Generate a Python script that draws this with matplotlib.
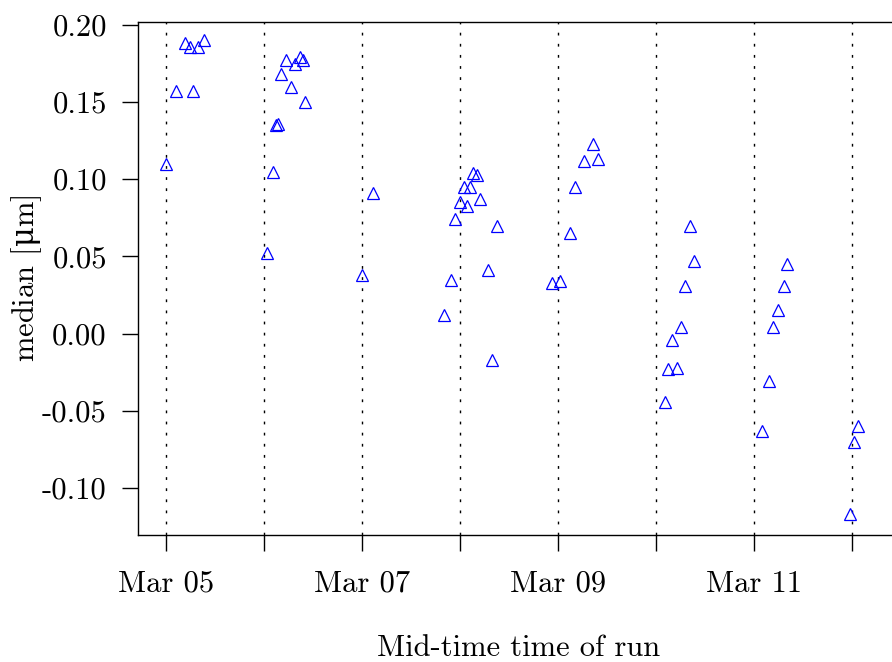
import matplotlib
matplotlib.use("Agg")
import matplotlib.pyplot as plt
from matplotlib.ticker import FixedLocator, FixedFormatter

# Mid-time of each run, as decimal day in March
run_day = [
    5.00, 5.10, 5.19, 5.24, 5.28, 5.33, 5.39,
    6.03, 6.09, 6.12, 6.14, 6.17, 6.22, 6.28, 6.32, 6.37, 6.40, 6.42,
    7.00, 7.11,
    7.84, 7.91, 7.95, 8.00, 8.04, 8.07, 8.10, 8.13, 8.17, 8.20, 8.29, 8.33, 8.38,
    8.94, 9.02, 9.12, 9.17, 9.27, 9.36, 9.41,
    10.09, 10.12, 10.16, 10.21, 10.26, 10.30, 10.35, 10.39,
    11.08, 11.15, 11.19, 11.24, 11.31, 11.34,
    11.98, 12.02, 12.06,
]
# Median value per run (um)
median_um = [
    0.110, 0.157, 0.188, 0.186, 0.157, 0.186, 0.190,
    0.052, 0.105, 0.135, 0.136, 0.168, 0.177, 0.160, 0.175, 0.179, 0.177, 0.150,
    0.038, 0.091,
    0.012, 0.035, 0.074, 0.085, 0.095, 0.083, 0.095, 0.104, 0.103, 0.087, 0.041, -0.017, 0.070,
    0.033, 0.034, 0.065, 0.095, 0.112, 0.123, 0.113,
    -0.044, -0.023, -0.004, -0.022, 0.004, 0.031, 0.070, 0.047,
    -0.063, -0.031, 0.004, 0.015, 0.031, 0.045,
    -0.117, -0.070, -0.060,
]

day_ticks = [5, 6, 7, 8, 9, 10, 11, 12]
day_labels = ["Mar 05", "", "Mar 07", "", "Mar 09", "", "Mar 11", ""]
y_ticks = [0.20, 0.15, 0.10, 0.05, 0.00, -0.05, -0.10]
y_labels = ["0.20", "0.15", "0.10", "0.05", "0.00", "-0.05", "-0.10"]

FONT = ["cmr10", "DejaVu Serif"]
plt.rcParams["font.family"] = FONT
plt.rcParams["font.size"] = 22
# upright mu for the axis label (cmr10 has no micro sign)
plt.rcParams["mathtext.fontset"] = "dejavuserif"

fig = plt.figure(figsize=(8.92, 6.62), dpi=100)
ax = fig.add_axes([138 / 892, 127 / 662, 1 - 138 / 892, 513 / 662])

# dotted vertical line at every day
for d in day_ticks:
    ax.axvline(d, color="black", lw=1.0, linestyle=(0, (2, 6)), zorder=1)

ax.plot(run_day, median_um, linestyle="none", marker="^", markersize=8.5,
        markerfacecolor="none", markeredgecolor="#0000ff", markeredgewidth=0.9,
        zorder=3)

ax.set_xlim(4.714, 12.408)
ax.set_ylim(-0.1305, 0.2019)

ax.xaxis.set_major_locator(FixedLocator(day_ticks))
ax.xaxis.set_major_formatter(FixedFormatter(day_labels))
ax.yaxis.set_major_locator(FixedLocator(y_ticks))
ax.yaxis.set_major_formatter(FixedFormatter(y_labels))
ax.tick_params(axis="both", direction="out", length=11.5, width=1.0,
               labelsize=22)
ax.tick_params(axis="x", pad=14)
ax.tick_params(axis="y", pad=11)

ax.spines["right"].set_visible(False)
for s in ["left", "bottom", "top"]:
    ax.spines[s].set_linewidth(1.0)

ax.set_xlabel("Mid-time time of run", fontsize=22)
ax.set_ylabel(r"median [$\mathrm{\mu}$m]", fontsize=22)
ax.xaxis.set_label_coords(0.505, -0.195)
ax.yaxis.set_label_coords(-0.125, 0.5)

fig.savefig("out.png", dpi=100)
